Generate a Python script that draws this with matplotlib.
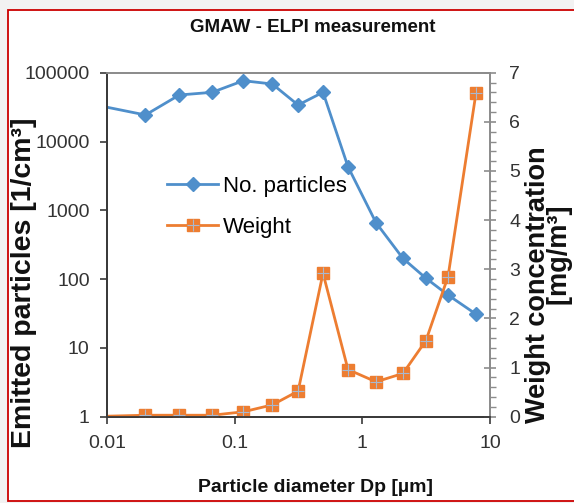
import matplotlib
matplotlib.use('Agg')
import matplotlib.pyplot as plt
from matplotlib.patches import Rectangle
from matplotlib.legend_handler import HandlerTuple
from matplotlib.ticker import FixedLocator, MultipleLocator, NullLocator

plt.rcParams['font.family'] = ['Liberation Sans', 'DejaVu Sans']

# particle diameter [um] (first point lies left of the axis and is clipped)
dp = [0.007, 0.020, 0.0368, 0.0667, 0.117, 0.197, 0.314, 0.492, 0.772, 1.28, 2.08, 3.15, 4.69, 7.76]
# number concentration [1/cm3]
n_particles = [36000, 24300, 47400, 51900, 76500, 68500, 33900, 51900, 4300, 660, 200, 103, 58.7, 31]
# weight concentration [mg/m3]
weight = [0.0, 0.03, 0.03, 0.03, 0.1, 0.24, 0.52, 2.92, 0.96, 0.71, 0.88, 1.55, 2.85, 6.58]

blue = '#4f8fcb'
orange = '#ed7d31'

fig = plt.figure(figsize=(5.74, 5.03), dpi=100)
fig.patch.set_facecolor('#f2f2f2')
# white panel with red frame
fig.patches.append(Rectangle((7.5 / 574, 2.5 / 503), 580 / 574, 490.5 / 503,
                             transform=fig.transFigure, facecolor='white',
                             edgecolor='#cc0000', linewidth=1.3, zorder=-5))

ax = fig.add_axes([107 / 574, 86.3 / 503, 383 / 574, 344 / 503])
ax2 = ax.twinx()

l1, = ax.plot(dp, n_particles, color=blue, lw=2.0, marker='D', ms=6.8,
              clip_on=True, label='No. particles')
l2, = ax2.plot(dp, weight, color=orange, lw=2.0, marker='s', ms=8.5, clip_on=True)
l3, = ax2.plot(dp, weight, ls='none', marker='+', ms=8.5, mew=0.8,
               color='#a9b9cf', clip_on=True)

ax.set_xscale('log')
ax.set_yscale('log')
ax.set_xlim(0.01, 10)
ax.set_ylim(1, 100000)
ax2.set_ylim(0, 7)

ax.xaxis.set_major_locator(FixedLocator([0.01, 0.1, 1, 10]))
ax.xaxis.set_minor_locator(NullLocator())
ax.yaxis.set_major_locator(FixedLocator([1, 10, 100, 1000, 10000, 100000]))
ax.yaxis.set_minor_locator(NullLocator())
ax.set_xticklabels(['0.01', '0.1', '1', '10'])
ax.set_yticklabels(['1', '10', '100', '1000', '10000', '100000'])

ax2.yaxis.set_major_locator(MultipleLocator(1))
ax2.yaxis.set_minor_locator(MultipleLocator(0.2))

for a in (ax, ax2):
    for s in a.spines.values():
        s.set_linewidth(1.3)
    a.spines['top'].set_color('#8c8c8c')
    a.spines['right'].set_color('#8c8c8c')
    a.spines['left'].set_color('#3a3a3a')
    a.spines['bottom'].set_color('#3a3a3a')

ax.tick_params(axis='both', which='major', direction='out', length=5, width=1.2,
               color='#3a3a3a', labelsize=14, labelcolor='#333333', pad=7.5)
ax.tick_params(axis='x', pad=8)
ax2.tick_params(axis='y', which='major', direction='inout', length=8, width=1.2,
                color='#8c8c8c', labelsize=14, labelcolor='#333333', pad=10)
ax2.tick_params(axis='y', which='minor', direction='out', length=4, width=1.0,
                color='#8c8c8c')

fig.text(313 / 574, 1 - 28 / 503, 'GMAW - ELPI measurement', ha='center', va='center',
         fontsize=13.5, fontweight='bold', color='#111111')
fig.text(315 / 574, 1 - 487 / 503, 'Particle diameter Dp [µm]', ha='center', va='center',
         fontsize=14, fontweight='bold', color='#111111')
fig.text(24 / 574, 1 - 283 / 503, 'Emitted particles [1/cm³]', rotation=90,
         ha='center', va='center', fontsize=20.5, fontweight='bold', color='#111111')
# second line sits higher than the centre of the first one, hence the leading spaces
fig.text(549 / 574, 1 - 285 / 503, 'Weight concentration\n        [mg/m³]', rotation=90,
         ha='center', va='center', multialignment='center', linespacing=0.8,
         fontsize=19.5, fontweight='bold', color='#111111')

ax2.legend([l1, (l2, l3)], ['No. particles', 'Weight'],
           handler_map={tuple: HandlerTuple(ndivide=1)},
           loc='center left', bbox_to_anchor=(156 / 574, 1 - 206.5 / 503),
           bbox_transform=fig.transFigure, frameon=False, fontsize=16,
           handlelength=2.3, handletextpad=0.2, labelspacing=0.9, numpoints=1,
           borderpad=0)

fig.savefig('out.png', dpi=100, facecolor=fig.get_facecolor())
